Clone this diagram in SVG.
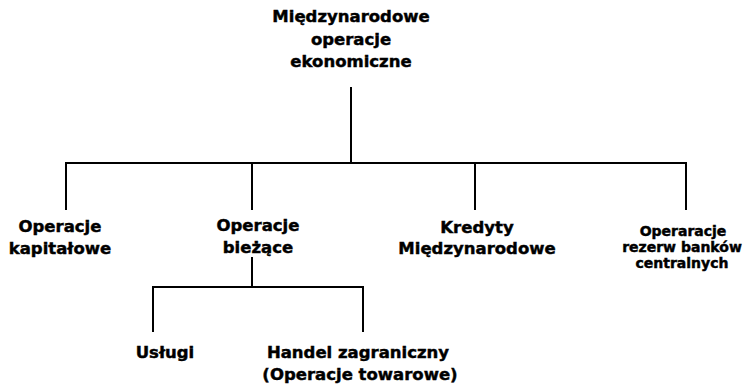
<svg xmlns="http://www.w3.org/2000/svg" width="748" height="386" viewBox="0 0 748 386">
<style>
.t{font-family:"DejaVu Sans",Verdana,sans-serif;font-weight:bold;font-size:16.5px;fill:#000;stroke:#000;stroke-width:0.45;text-anchor:middle}
.s{font-size:14px}
.c{stroke:#000;stroke-width:2;fill:none}
</style>
<rect width="748" height="386" fill="#fff"/>
<g id="connectors" class="c">
<path d="M351 87V163"/>
<path d="M66 210V163H686V210"/>
<path d="M252 163V210"/>
<path d="M475 163V210"/>
<path d="M252 257V287"/>
<path d="M153 332V287H363V332"/>
</g>
<g id="root"><text class="t" x="351" y="22">Międzynarodowe</text><text class="t" x="351" y="44.5">operacje</text><text class="t" x="351" y="67">ekonomiczne</text></g>
<g id="kapitalowe"><text class="t" x="60" y="232">Operacje</text><text class="t" x="60" y="254">kapitałowe</text></g>
<g id="biezace"><text class="t" x="258" y="231">Operacje</text><text class="t" x="258" y="253">bieżące</text></g>
<g id="kredyty"><text class="t" x="477" y="233">Kredyty</text><text class="t" x="477" y="254">Międzynarodowe</text></g>
<g id="rezerwy"><text class="t s" x="683" y="235.5">Operaracje</text><text class="t s" x="682" y="251.5">rezerw banków</text><text class="t s" x="682" y="267.5">centralnych</text></g>
<g id="uslugi"><text class="t" x="165" y="358">Usługi</text></g>
<g id="handel"><text class="t" x="358" y="358">Handel zagraniczny</text><text class="t" x="360" y="380">(Operacje towarowe)</text></g>
</svg>
